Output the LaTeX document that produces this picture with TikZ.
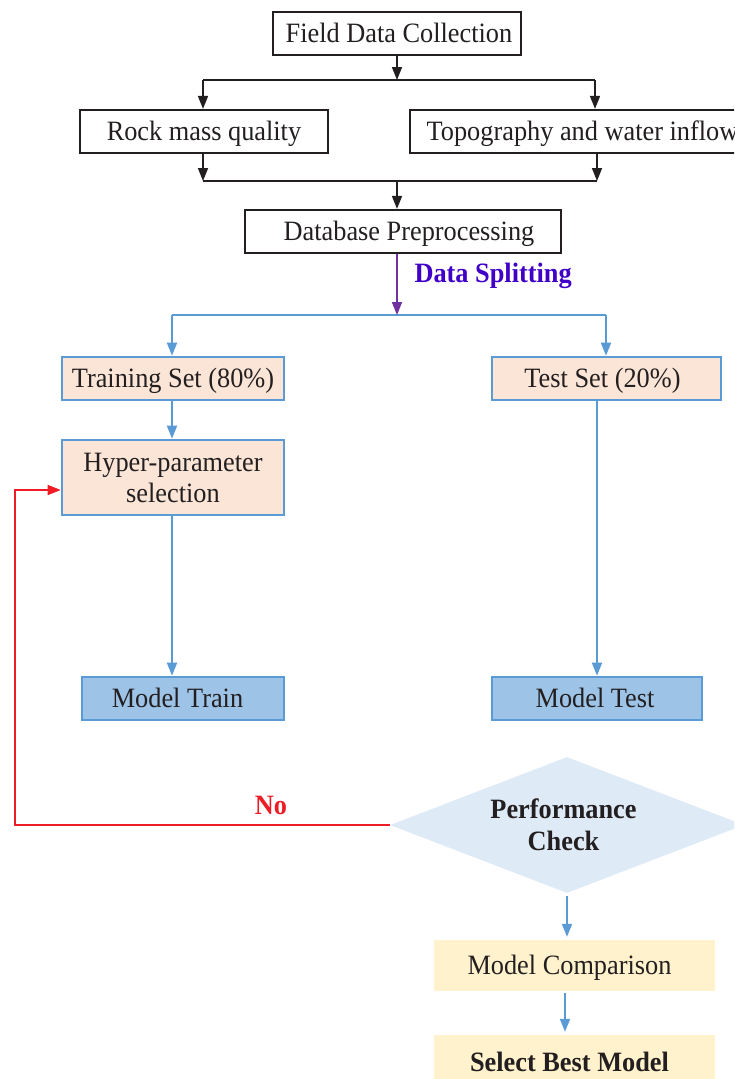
\documentclass[tikz,border=0pt]{standalone}
\usepackage{fontspec}
\setmainfont{Liberation Serif}[FakeStretch=0.94]
\usetikzlibrary{arrows.meta,shapes.geometric}
\definecolor{ink}{HTML}{231F20}
\definecolor{cblue}{HTML}{5B9BD5}
\definecolor{cpeach}{HTML}{FBE5D6}
\definecolor{cmodel}{HTML}{9DC3E6}
\definecolor{cdiam}{HTML}{DEEBF7}
\definecolor{cyell}{HTML}{FFF2CC}
\definecolor{cpurple}{HTML}{7030A0}
\definecolor{csplit}{HTML}{4000C8}
\definecolor{cred}{HTML}{EE1C25}
\tikzset{
  tip/.style={-{Triangle[length=13pt,width=10pt]}},
  oneline/.style={text height=24pt, text depth=5.5pt},
  blackbox/.style={draw=ink, line width=2.2pt, fill=white, inner sep=0pt, text=ink,
    minimum height=43pt, oneline},
  bluebox/.style={draw=cblue, line width=2.6pt, inner sep=0pt, text=ink},
  softbox/.style={inner sep=0pt, text=ink, oneline},
  blackline/.style={draw=ink, line width=1.6pt},
  blueline/.style={draw=cblue, line width=1.8pt},
}
% nudges a centred label sideways inside its box
\newcommand{\pushright}[2]{\hspace*{#1}#2}
\newcommand{\pushleft}[2]{#2\hspace*{#1}}
\begin{document}
\begin{tikzpicture}[x=1pt,y=-1pt,font=\fontsize{28}{31}\selectfont]
\useasboundingbox (0,0) rectangle (734,1079);
\clip (0,0) rectangle (734,1079);

% data sources
\node[blackbox, minimum width=248pt] (field) at (397,33.5) {\pushright{4pt}{Field Data Collection}};
\node[blackbox, minimum width=248pt] (rock) at (204,131.5) {Rock mass quality};
\node[blackbox, minimum width=345pt] (topo) at (582.5,131.5) {Topography and water inflow};
\node[blackbox, minimum width=316pt] (db) at (403,231.5) {\pushright{12pt}{Database Preprocessing}};

% split branches
\node[bluebox, oneline, fill=cpeach, minimum width=222pt, minimum height=43pt] (train) at (173,378.5) {Training Set (80\%)};
\node[bluebox, oneline, fill=cpeach, minimum width=229pt, minimum height=43pt] (test) at (606.5,378.5) {\pushleft{8pt}{Test Set (20\%)}};
\node[bluebox, fill=cpeach, minimum width=222pt, minimum height=75pt, align=center] (hyper) at (173,477.5) {Hyper-parameter\\selection};
\node[bluebox, oneline, fill=cmodel, minimum width=202pt, minimum height=43pt] (mtrain) at (183,698.5) {\pushleft{11pt}{Model Train}};
\node[bluebox, oneline, fill=cmodel, minimum width=210pt, minimum height=43pt] (mtest) at (597,698.5) {\pushleft{4pt}{Model Test}};

% evaluation
\node[diamond, fill=cdiam, inner sep=0pt, aspect=2.6, minimum width=354pt, minimum height=136pt,
  text=ink, font=\fontsize{28}{32}\selectfont\bfseries, align=center] (dia) at (567,825) {Performance\hspace*{7pt}\\Check\hspace*{7pt}};
\node[softbox, fill=cyell, minimum width=281pt, minimum height=51pt] (comp) at (574.5,965.5) {\pushleft{10pt}{Model Comparison}};
\node[softbox, fill=cyell, minimum width=281pt, minimum height=55pt, font=\fontsize{28}{31}\selectfont\bfseries] (best) at (574.5,1062.5) {\pushleft{10pt}{Select Best Model}};

% black connectors
\coordinate (fl) at (203,80);
\coordinate (fr) at (595,80);
\coordinate (jl) at (203,181);
\coordinate (jr) at (597,181);
\coordinate (jm) at (397,181);
\draw[blackline, tip] (field.south) -- (field.south |- fl);
\draw[blackline] (fl) -- (fr);
\draw[blackline, tip] (fl) -- (fl |- rock.north);
\draw[blackline, tip] (fr) -- (fr |- topo.north);
\draw[blackline, tip] (jl |- rock.south) -- (jl);
\draw[blackline, tip] (jr |- topo.south) -- (jr);
\draw[blackline] (jl) -- (jr);
\draw[blackline, tip] (jm) -- (jm |- db.north);

% data splitting
\coordinate (sp) at (397,315);
\coordinate (bl) at (172,315);
\coordinate (br) at (606,315);
\draw[blueline] (bl) -- (br);
\draw[draw=cpurple, line width=1.6pt, tip] (db.south -| sp) -- (sp);
\node[text=csplit, font=\fontsize{28}{31}\selectfont\bfseries, anchor=west] (splitlbl) at (411,276) {Data Splitting};
\draw[blueline, tip] (bl) -- (bl |- train.north);
\draw[blueline, tip] (br) -- (br |- test.north);
\draw[blueline, tip] (train.south -| bl) -- (hyper.north -| bl);
\draw[blueline, tip] (hyper.south -| bl) -- (mtrain.north -| bl);
\draw[blueline, tip] (test.south -| mtest.north) -- (mtest.north);

% feedback loop
\coordinate (loop) at (15,0);
\draw[draw=cred, line width=1.6pt, tip] (dia.west) -- (dia.west -| loop)
  -- ([yshift=-12.5pt]hyper.west -| loop) -- ([yshift=-12.5pt]hyper.west);
\node[text=cred, font=\fontsize{28}{31}\selectfont\bfseries] (nolbl) at (271,805) {No};

% selection
\draw[blueline, tip, shorten <=3pt, shorten >=3pt] (dia.south) -- (dia.south |- comp.north);
\draw[blueline, tip, shorten <=2pt, shorten >=3pt] ([xshift=-9.5pt]comp.south) -- ([xshift=-9.5pt]best.north);
\end{tikzpicture}
\end{document}
